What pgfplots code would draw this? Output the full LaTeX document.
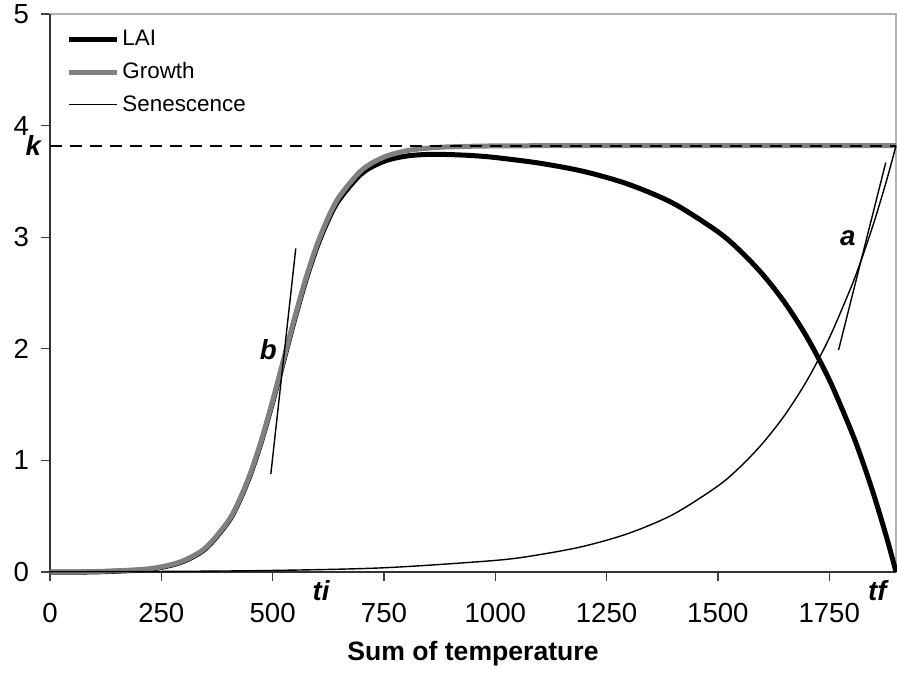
\documentclass[border=0pt]{standalone}
\usepackage{fontspec}
\setmainfont{Liberation Sans}
\usepackage{pgfplots}
\pgfplotsset{compat=1.18}

\begin{document}
\begin{tikzpicture}
\useasboundingbox (-25pt,-52pt) rectangle (423.5pt,286pt);
\begin{axis}[
    at={(0,0)}, anchor=south west,
    scale only axis,
    width=423pt, height=279pt,
    xmin=0, xmax=1900, ymin=0, ymax=5,
    xtick={0,250,...,1750}, ytick={0,1,...,5},
    tick align=outside, tick pos=left,
    major tick length=4.5pt,
    tick style={black!75, line width=0.6pt},
    axis line style={draw=gray!60, line width=0.6pt},
    /pgf/number format/assume math mode=true,
    /pgf/number format/1000 sep={},
    ticklabel style={font=\fontsize{13.8}{15}\selectfont},
    xticklabel style={yshift=-7.5pt},
    yticklabel style={xshift=-2.5pt},
    xlabel={\textbf{Sum of temperature}},
    xlabel style={font=\fontsize{13.3}{15}\selectfont, at={(axis description cs:0.5,0)}, anchor=north, yshift=-31pt},
    clip=false,
    legend style={at={(rel axis cs:0.019,0.977)}, anchor=north west, draw=none, fill=none,
        font=\fontsize{11.2}{13}\selectfont, row sep=3.9pt, inner sep=0pt,
        nodes={inner sep=1.5pt}},
    legend cell align=left,
    legend image code/.code={\draw[#1] (0pt,0pt) -- (24pt,0pt);},
]
% left and bottom axis lines darker
\draw[black!80, line width=0.6pt] (rel axis cs:0,1) -- (rel axis cs:0,0) -- (rel axis cs:1,0);

\addplot[black, line width=2.5pt, smooth] coordinates {
(0,0.0) (100,0.001) (200,0.017) (250,0.041) (300,0.096) (350,0.211) (400,0.446)
(425,0.632) (450,0.872) (475,1.171) (500,1.519) (525,1.894) (550,2.270) (575,2.617)
(600,2.915) (625,3.155) (650,3.339) (700,3.570) (750,3.680) (800,3.727) (850,3.742)
(900,3.740) (950,3.731) (1000,3.714) (1100,3.663) (1200,3.588) (1300,3.473)
(1400,3.303) (1500,3.049) (1550,2.878) (1600,2.669) (1650,2.415) (1700,2.104)
(1750,1.724) (1800,1.259) (1825,0.990) (1850,0.693) (1875,0.364) (1890,0.150) (1900,0.0)
};
\addlegendentry{LAI}

\addplot[gray, line width=2.5pt, smooth] coordinates {
(0,0.001) (100,0.004) (200,0.021) (250,0.046) (300,0.102) (350,0.219) (400,0.455)
(425,0.642) (450,0.884) (475,1.184) (500,1.533) (525,1.910) (550,2.287) (575,2.636)
(600,2.936) (625,3.178) (650,3.365) (700,3.601) (750,3.718) (800,3.774) (850,3.799)
(900,3.810) (1000,3.818) (1200,3.820) (1900,3.820)
};
\addlegendentry{Growth}

\addplot[black, line width=0.7pt, smooth] coordinates {
(0,0.002) (250,0.005) (500,0.014) (750,0.038) (1000,0.104) (1100,0.156) (1200,0.232)
(1300,0.347) (1400,0.517) (1500,0.771) (1550,0.942) (1600,1.151) (1650,1.405)
(1700,1.716) (1750,2.096) (1800,2.561) (1825,2.830) (1850,3.127) (1875,3.456)
(1890,3.670) (1900,3.820)
};
\addlegendentry{Senescence}

% tangents
\addplot[black, line width=0.7pt, forget plot] coordinates {(496,0.88) (552,2.90)};
\addplot[black, line width=0.7pt, forget plot] coordinates {(1771,1.99) (1877,3.67)};
% k asymptote
\addplot[black, line width=1.1pt, dash pattern=on 6pt off 4pt, forget plot] coordinates {(0,3.82) (1900,3.82)};

\node[font=\fontsize{13.8}{15}\selectfont\bfseries\itshape] at (axis cs:490,1.99) {b};
\node[font=\fontsize{13.8}{15}\selectfont\bfseries\itshape] at (axis cs:1792,2.99) {a};
\node[font=\fontsize{13.8}{15}\selectfont\bfseries\itshape] at (axis cs:609,-0.17) {ti};
\node[font=\fontsize{13.8}{15}\selectfont\bfseries\itshape] at (axis cs:1858,-0.17) {tf};
\node[font=\fontsize{13.8}{15}\selectfont\bfseries\itshape] at ([xshift=-8.3pt]axis cs:0,3.82) {k};
\end{axis}
\end{tikzpicture}
\end{document}
